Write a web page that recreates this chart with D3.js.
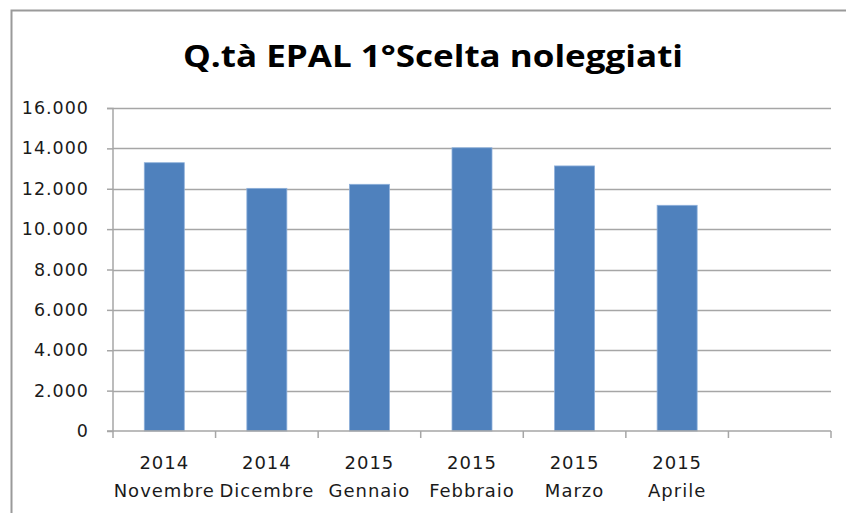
<!DOCTYPE html>
<html>
<head>
<meta charset="utf-8">
<script src="https://cdn.jsdelivr.net/npm/d3@7"></script>
<style>
  body { margin: 0; background: #fff; }
  svg { display: block; }
  .axis text { font-family: "DejaVu Sans", Verdana, sans-serif; fill: #1a1a1a; letter-spacing: 1px; }
  .y.axis text { font-size: 17.5px; }
  .x.axis text { font-size: 18px; }
</style>
</head>
<body>
<div id="chart"></div>
<script>
// data
const years = [`2014`, `2014`, `2015`, `2015`, `2015`, `2015`, ``];
const months = [`Novembre`, `Dicembre`, `Gennaio`, `Febbraio`, `Marzo`, `Aprile`, ``];
const values = [13290, 12020, 12220, 14030, 13130, 11180, null];
const yTicks = [0, 2000, 4000, 6000, 8000, 10000, 12000, 14000, 16000];

const W = 846, H = 513;
const margin = {top: 108, right: 15, bottom: 82, left: 113};

let svg = d3.select(`#chart`).append(`svg`)
  .attr(`width`, W)
  .attr(`height`, H);

// chart border (top and left edges visible)
svg.append(`path`)
  .attr(`d`, `M11.5,${H} L11.5,10.5 L${W},10.5`)
  .attr(`fill`, `none`)
  .attr(`stroke`, `#9a9a9a`)
  .attr(`stroke-width`, 2);

let width = W - margin.left - margin.right;
let height = H - margin.top - margin.bottom;

let graph = svg.append(`g`)
  .attr(`transform`, `translate(` + margin.left + `,` + margin.top + `)`);

const idx = d3.range(values.length);

let x = d3.scaleBand().domain(idx).range([0, width]).paddingInner(0).paddingOuter(0);
let y = d3.scaleLinear().domain([0, 16000]).range([height, 0]);

// gridlines
graph.append(`g`)
  .selectAll(`line`)
  .data(yTicks.filter(d => d > 0))
  .enter().append(`line`)
  .attr(`x1`, 0).attr(`x2`, width)
  .attr(`y1`, d => Math.round(y(d)) + 0.5).attr(`y2`, d => Math.round(y(d)) + 0.5)
  .attr(`stroke`, `#a6a6a6`)
  .attr(`stroke-width`, 1.5);

// bars
const barW = x.bandwidth() * 0.39;
graph.append(`g`)
  .selectAll(`rect`)
  .data(idx.filter(i => values[i] != null))
  .enter().append(`rect`)
  .attr(`x`, i => x(i) + (x.bandwidth() - barW) / 2)
  .attr(`y`, i => y(values[i]))
  .attr(`width`, barW)
  .attr(`height`, i => height - y(values[i]))
  .attr(`fill`, `#4f81bd`)
  .attr(`stroke`, `#8eb0da`)
  .attr(`stroke-width`, 0.8);

// y axis
let fmt = d3.formatLocale({decimal: `,`, thousands: `.`, grouping: [3], currency: [``, ``]}).format(`,`);
let yAxis = graph.append(`g`)
  .attr(`class`, `y axis`)
  .call(d3.axisLeft(y).tickValues(yTicks).tickFormat(fmt).tickSize(6).tickPadding(18));
yAxis.select(`.domain`).attr(`stroke`, `#a6a6a6`).attr(`stroke-width`, 1.5).attr(`d`, `M-6,0.5H0V${height}H-6`);
yAxis.selectAll(`.tick line`).attr(`stroke`, `#a6a6a6`).attr(`stroke-width`, 1.5);

// x axis
let xAxis = graph.append(`g`)
  .attr(`class`, `x axis`)
  .attr(`transform`, `translate(0,` + height + `)`)
  .call(d3.axisBottom(x).tickSize(0).tickFormat(``));
xAxis.select(`.domain`).attr(`stroke`, `#a6a6a6`).attr(`stroke-width`, 1.5).attr(`d`, `M0,0H${width}`);

// category separator ticks
xAxis.append(`g`)
  .selectAll(`line`)
  .data(d3.range(values.length + 1))
  .enter().append(`line`)
  .attr(`x1`, i => i * x.step()).attr(`x2`, i => i * x.step())
  .attr(`y1`, 0).attr(`y2`, 7)
  .attr(`stroke`, `#a6a6a6`)
  .attr(`stroke-width`, 1.5);

// two-line labels
let lab = xAxis.append(`g`)
  .selectAll(`text`)
  .data(idx)
  .enter().append(`text`)
  .attr(`x`, i => x(i) + x.bandwidth() / 2)
  .attr(`text-anchor`, `middle`);
lab.append(`tspan`).attr(`x`, i => x(i) + x.bandwidth() / 2).attr(`y`, 38).text(i => years[i]);
lab.append(`tspan`).attr(`x`, i => x(i) + x.bandwidth() / 2).attr(`y`, 66).text(i => months[i]);

// title
svg.append(`text`)
  .attr(`x`, 433)
  .attr(`y`, 67)
  .attr(`text-anchor`, `middle`)
  .style(`font-family`, `"Open Sans", "Noto Sans", sans-serif`)
  .style(`font-weight`, `bold`)
  .style(`font-size`, `31px`)
  .attr(`textLength`, 500)
  .attr(`lengthAdjust`, `spacingAndGlyphs`)
  .text(`Q.tà EPAL 1°Scelta noleggiati`);
</script>
</body>
</html>
